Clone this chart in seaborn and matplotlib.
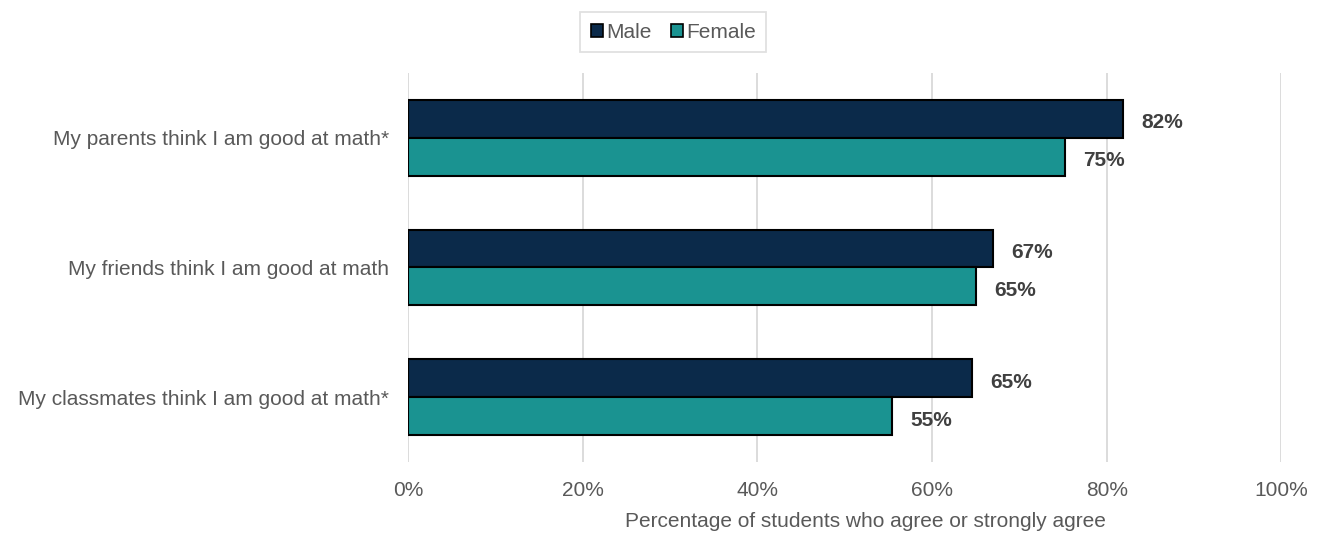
import pandas as pd
import matplotlib.pyplot as plt
import seaborn as sns
from matplotlib.patches import Patch

# Data
statements = [
    "My parents think I am good at math*",
    "My friends think I am good at math",
    "My classmates think I am good at math*",
]
male = [81.9, 67.0, 64.6]
female = [75.2, 65.0, 55.4]
genders = ["Male", "Female"]
colors = {"Male": "#0B2A4A", "Female": "#1A9391"}

sns.set_theme(style="white")
plt.rcParams["font.family"] = ["Liberation Sans", "DejaVu Sans"]


def main():
    df = pd.DataFrame({
        "statement": statements * 2,
        "pct": male + female,
        "gender": ["Male"] * 3 + ["Female"] * 3,
    })

    fig = plt.figure(figsize=(13.23, 5.36), dpi=100)
    ax = fig.add_axes([0.3085, 0.138, 0.66, 0.726])

    sns.barplot(
        data=df, x="pct", y="statement", hue="gender",
        hue_order=genders, palette=colors, orient="h", saturation=1,
        width=0.585, edgecolor="black", linewidth=1.5,
        ax=ax, legend=False, zorder=3,
    )

    # value labels, nudged down a touch to sit on the bar centre
    for cont in ax.containers:
        anns = ax.bar_label(cont, labels=[f"{v:.0f}%" for v in cont.datavalues],
                            padding=13, fontsize=15, fontweight="bold", color="#404040")
        for a in anns:
            a.xyann = (13, -3)

    ax.set_xlim(0, 100)
    ax.set_ylim(2.5, -0.5)
    ax.set_xticks(range(0, 101, 20))
    ax.set_xticklabels([f"{t}%" for t in range(0, 101, 20)])
    ax.grid(axis="x", color="#D9D9D9", linewidth=1.3, zorder=0)
    ax.grid(axis="y", visible=False)
    sns.despine(ax=ax, left=True, bottom=True)

    ax.tick_params(axis="x", length=0, pad=14, labelsize=15, labelcolor="#595959")
    ax.tick_params(axis="y", length=0, pad=14, labelsize=15, labelcolor="#595959")
    ax.set_ylabel("")
    ax.set_xlabel("Percentage of students who agree or strongly agree",
                  fontsize=15, color="#595959")
    ax.xaxis.set_label_coords(0.524, -0.128)

    handles = [Patch(facecolor=colors[g], edgecolor="black", linewidth=1.2, label=g)
               for g in genders]
    leg = fig.legend(handles=handles, loc="center", bbox_to_anchor=(0.509, 0.94),
                     ncol=2, frameon=True, fontsize=15, handlelength=0.6,
                     handleheight=0.6, handletextpad=0.15, columnspacing=0.9,
                     fancybox=False, borderpad=0.5)
    leg.get_frame().set_edgecolor("#D9D9D9")
    leg.get_frame().set_linewidth(1.3)
    for t in leg.get_texts():
        t.set_color("#595959")

    fig.savefig("out.png", dpi=100)


if __name__ == "__main__":
    main()
